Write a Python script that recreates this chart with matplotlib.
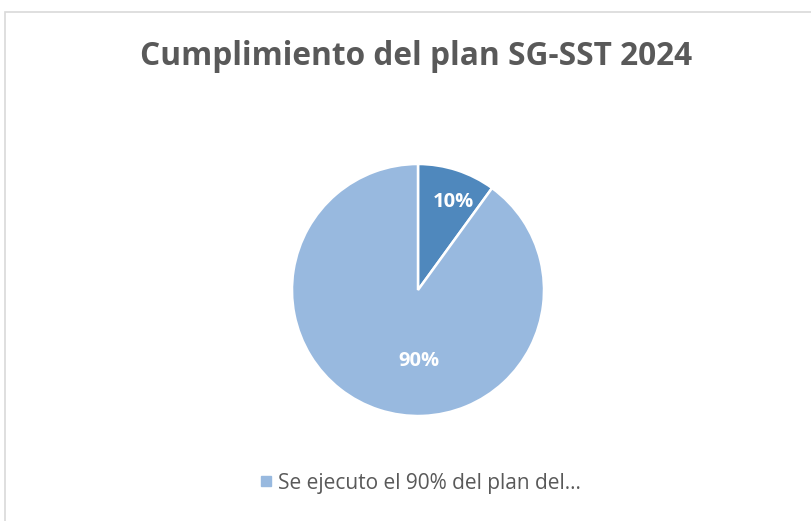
import matplotlib.pyplot as plt
from matplotlib.lines import Line2D
from matplotlib.patches import Rectangle

plt.rcParams['font.family'] = ['Open Sans', 'DejaVu Sans']

# data
labels = ['No se ejecuto', 'Se ejecuto el 90% del plan del…']
values = [10, 90]
colors = ['#4F88BD', '#98B9DF']
title = 'Cumplimiento del plan SG-SST 2024'

W, H = 812, 521
fig = plt.figure(figsize=(W / 100, H / 100), dpi=100)

# light border of the chart area (only top and left visible)
fig.patches.append(Rectangle((5 / W, -0.1), 1.2, 1 - 12 / H + 0.1,
                             transform=fig.transFigure, fill=False,
                             edgecolor='#D9D9D9', linewidth=1.2))

cx, cy, r = 418, 290, 126
ax = fig.add_axes([(cx - r) / W, (H - cy - r) / H, 2 * r / W, 2 * r / H])
wedges, texts, autotexts = ax.pie(
    values, colors=colors, startangle=90, counterclock=False,
    autopct='%1.0f%%', pctdistance=0.74,
    wedgeprops=dict(edgecolor='white', linewidth=1.8),
    textprops=dict(color='white', fontsize=14.5, fontweight='bold'))
# Excel-like label placement
autotexts[0].set_position((0.28, 0.70))
autotexts[1].set_position((0.01, -0.56))
ax.set_xlim(-1, 1)
ax.set_ylim(-1, 1)
ax.set_aspect('equal')
ax.axis('off')

fig.text(0.513, 1 - 65 / H, title, ha='center', va='baseline',
         fontsize=22.8, fontweight='bold', color='#595959')

handle = Line2D([], [], marker='s', linestyle='none', markersize=7.5,
                markerfacecolor=colors[1], markeredgecolor=colors[1])
fig.legend([handle], [labels[1]], loc='center', bbox_to_anchor=(420 / W, 1 - 483 / H),
           frameon=False, fontsize=15, labelcolor='#595959',
           handletextpad=0.25, handlelength=0.7)

fig.savefig('out.png', dpi=100)
